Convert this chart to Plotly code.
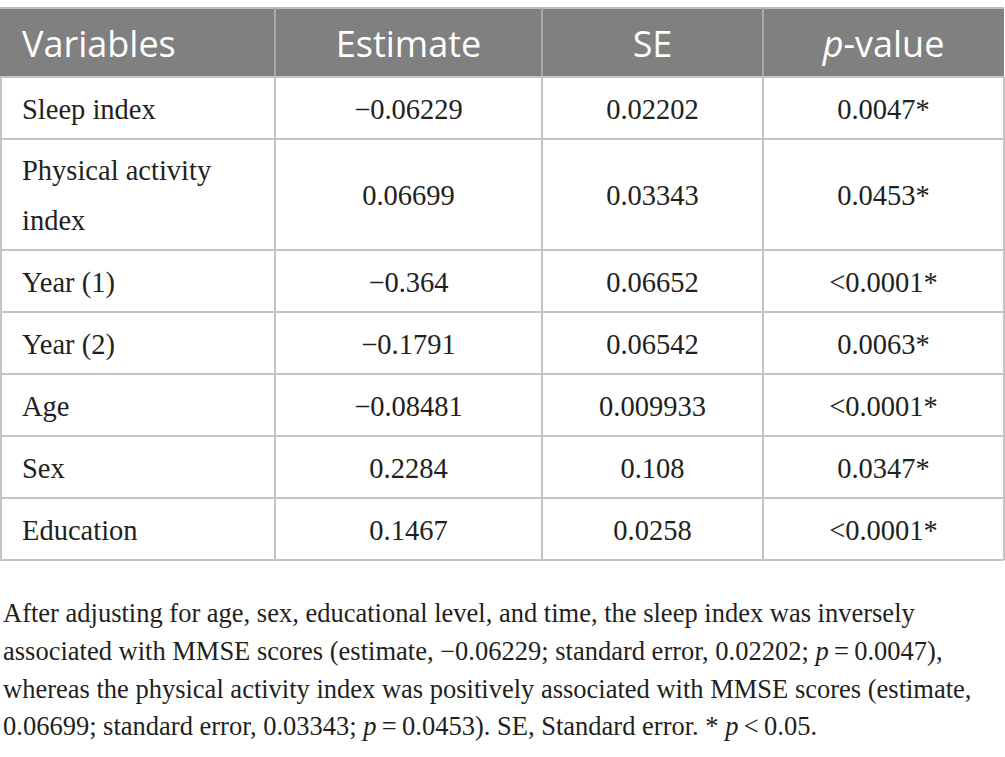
import numpy as np
import plotly.graph_objects as go

# table content
headers = ["Variables", "Estimate", "SE", "<i>p</i>-value"]
variables = ["Sleep index", "Physical activity<br>index", "Year (1)", "Year (2)",
             "Age", "Sex", "Education"]
estimates = ["−0.06229", "0.06699", "−0.364", "−0.1791", "−0.08481", "0.2284", "0.1467"]
std_err = ["0.02202", "0.03343", "0.06652", "0.06542", "0.009933", "0.108", "0.0258"]
p_values = ["0.0047*", "0.0453*", "&lt;0.0001*", "0.0063*", "&lt;0.0001*", "0.0347*", "&lt;0.0001*"]

caption = [
    "After adjusting for age, sex, educational level, and time, the sleep index was inversely",
    "associated with MMSE scores (estimate, −0.06229; standard error, 0.02202; <i>p</i>\u2009=\u20090.0047),",
    "whereas the physical activity index was positively associated with MMSE scores (estimate,",
    "0.06699; standard error, 0.03343; <i>p</i>\u2009=\u20090.0453). SE, Standard error. * <i>p</i>\u2009&lt;\u20090.05.",
]

# layout in pixels (axes map 1 unit = 1 px)
W, H = 1005, 757
col_widths = [275, 267, 221, 241]
top, header_h, row_h, line_gap = 8, 69, 62, 49
grid = "#c4c4c4"
ink = "#231f20"
serif = "Liberation Serif"

x_edges = np.concatenate([[0], np.cumsum(col_widths)])
x_mid = (x_edges[:-1] + x_edges[1:]) / 2

n_lines = [v.count("<br>") + 1 for v in variables]
heights = [row_h + line_gap * (n - 1) for n in n_lines]
y_edges = top + header_h + np.concatenate([[0], np.cumsum(heights)])
y_mid = (y_edges[:-1] + y_edges[1:]) / 2 + 3.5

fig = go.Figure()

# header band
fig.add_shape(type="rect", x0=x_edges[0], x1=x_edges[-1], y0=top, y1=top + header_h,
              fillcolor="#808080", line_width=0, layer="below")
fig.add_shape(type="line", x0=x_edges[0], x1=x_edges[-1], y0=top, y1=top,
              line=dict(color="#bdbdbd", width=2))
for xe in x_edges[1:-1]:
    fig.add_shape(type="line", x0=xe, x1=xe, y0=top, y1=top + header_h,
                  line=dict(color="#a9a9a9", width=2))

# body grid
for ye in y_edges:
    fig.add_shape(type="line", x0=x_edges[0], x1=x_edges[-1], y0=ye, y1=ye,
                  line=dict(color=grid, width=2))
for xe in x_edges:
    xx = min(max(xe, 1), x_edges[-1])
    fig.add_shape(type="line", x0=xx, x1=xx, y0=y_edges[0], y1=y_edges[-1],
                  line=dict(color=grid, width=2))

# header text
fig.add_trace(go.Scatter(
    x=[22] + list(x_mid[1:]), y=[top + header_h / 2 + 5.5] * 4,
    text=headers, mode="text",
    textposition=["middle right"] + ["middle center"] * 3,
    textfont=dict(family="Open Sans", size=36, color="white"),
    hoverinfo="skip", cliponaxis=False,
))

# first column, one point per text line
vx, vy, vt = [], [], []
for v, yc, n in zip(variables, y_mid, n_lines):
    for k, part in enumerate(v.split("<br>")):
        vx.append(22)
        vy.append(yc + (k - (n - 1) / 2) * (line_gap + 1))
        vt.append(part)
fig.add_trace(go.Scatter(
    x=vx, y=vy, text=vt, mode="text", textposition="middle right",
    textfont=dict(family=serif, size=28.5, color=ink),
    hoverinfo="skip", cliponaxis=False,
))

# numeric columns
for j, col in enumerate([estimates, std_err, p_values], start=1):
    fig.add_trace(go.Scatter(
        x=[x_mid[j]] * len(col), y=y_mid, text=col, mode="text",
        textposition="middle center",
        textfont=dict(family=serif, size=28.5, color=ink),
        hoverinfo="skip", cliponaxis=False,
    ))

# footnote
for i, line in enumerate(caption):
    fig.add_annotation(
        text=line, x=1, y=623 + 37.8 * i, xref="x", yref="y",
        xanchor="left", yanchor="bottom", yshift=-7, showarrow=False,
        font=dict(family=serif, size=26.5, color=ink),
    )

fig.update_xaxes(range=[0, W], visible=False, fixedrange=True)
fig.update_yaxes(range=[H, 0], visible=False, fixedrange=True)
fig.update_layout(
    width=W, height=H,
    margin=dict(l=0, r=0, t=0, b=0),
    paper_bgcolor="white", plot_bgcolor="white",
    showlegend=False,
)

# drop the browser's default 8px body margin so the figure fills the window
fig.write_html("out.html", config={"displayModeBar": False},
               post_script="document.body.style.margin = '0';")
